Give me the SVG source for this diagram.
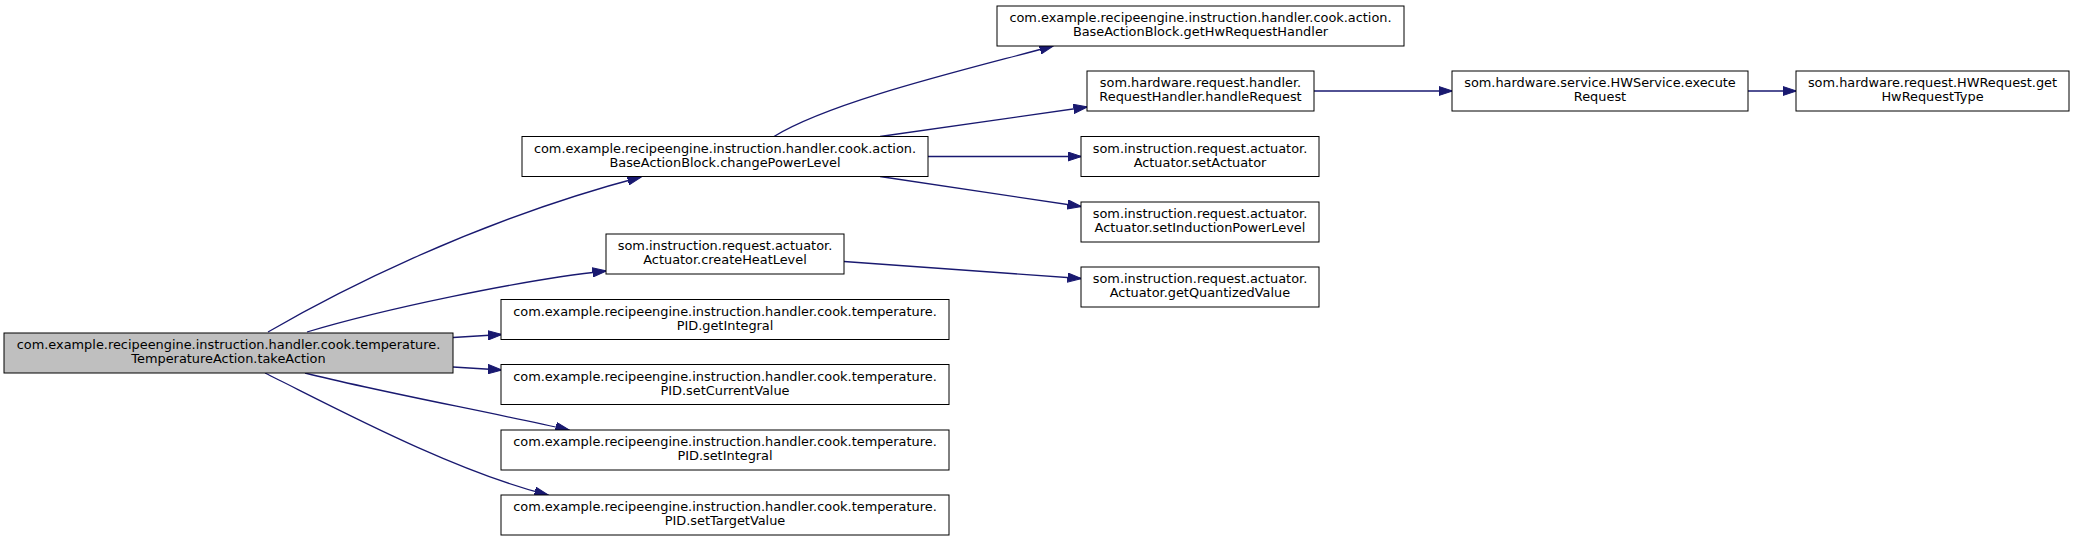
<svg xmlns="http://www.w3.org/2000/svg" width="2075" height="541" viewBox="0 0 2075 541">
<style>
.n rect{fill:#ffffff;stroke:#000000;stroke-width:1}
#root rect{fill:#bfbfbf}
.n text{font-family:"DejaVu Sans","Liberation Sans",sans-serif;font-size:12.9px;fill:#000000;text-anchor:middle}
.e path{fill:none;stroke:#191970;stroke-width:1.3;marker-end:url(#arr)}
</style>
<defs>
<marker id="arr" markerUnits="userSpaceOnUse" markerWidth="14" markerHeight="10" viewBox="0 0 14 10" refX="13.5" refY="5" orient="auto">
<path d="M0,0.4 L14,5 L0,9.6 z" fill="#191970" stroke="#191970" stroke-width="1"/>
</marker>
</defs>
<rect x="0" y="0" width="2075" height="541" fill="#ffffff"/>
<g id="edges" class="e">
<path d="M268,332 C330,296 470,222 641,177"/>
<path d="M307,332 C380,310 520,280 606,271"/>
<path d="M453,337.5 L501.5,334.5"/>
<path d="M453,367 L501.5,370"/>
<path d="M305,373 C380,392 480,410 569,430"/>
<path d="M265,373 C330,405 450,470 548,495"/>
<path d="M774,136.5 C834,100 973,68 1053,46"/>
<path d="M880,136.5 L1087,107"/>
<path d="M928,156.5 L1081,156.5"/>
<path d="M880,176.5 L1081,206.5"/>
<path d="M844,261.5 L1081,278.5"/>
<path d="M1314,91 L1452,91"/>
<path d="M1748,91 L1796,91"/>
</g>
<g id="root" class="n">
<rect x="4" y="333" width="449" height="40"/>
<text x="228.5" y="349.3">com.example.recipeengine.instruction.handler.cook.temperature.</text>
<text x="228.5" y="363">TemperatureAction.takeAction</text>
</g>
<g id="changePowerLevel" class="n">
<rect x="522" y="136.5" width="406" height="40"/>
<text x="725" y="152.8">com.example.recipeengine.instruction.handler.cook.action.</text>
<text x="725" y="166.5">BaseActionBlock.changePowerLevel</text>
</g>
<g id="createHeatLevel" class="n">
<rect x="606" y="234" width="238" height="40"/>
<text x="725" y="250.3">som.instruction.request.actuator.</text>
<text x="725" y="264">Actuator.createHeatLevel</text>
</g>
<g id="getIntegral" class="n">
<rect x="501" y="299.5" width="448" height="40"/>
<text x="725" y="315.8">com.example.recipeengine.instruction.handler.cook.temperature.</text>
<text x="725" y="329.5">PID.getIntegral</text>
</g>
<g id="setCurrentValue" class="n">
<rect x="501" y="364.5" width="448" height="40"/>
<text x="725" y="380.8">com.example.recipeengine.instruction.handler.cook.temperature.</text>
<text x="725" y="394.5">PID.setCurrentValue</text>
</g>
<g id="setIntegral" class="n">
<rect x="501" y="430" width="448" height="40"/>
<text x="725" y="446.3">com.example.recipeengine.instruction.handler.cook.temperature.</text>
<text x="725" y="460">PID.setIntegral</text>
</g>
<g id="setTargetValue" class="n">
<rect x="501" y="495" width="448" height="40"/>
<text x="725" y="511.3">com.example.recipeengine.instruction.handler.cook.temperature.</text>
<text x="725" y="525">PID.setTargetValue</text>
</g>
<g id="getHwRequestHandler" class="n">
<rect x="997" y="6" width="407" height="40"/>
<text x="1200.5" y="22.3">com.example.recipeengine.instruction.handler.cook.action.</text>
<text x="1200.5" y="36">BaseActionBlock.getHwRequestHandler</text>
</g>
<g id="handleRequest" class="n">
<rect x="1087" y="71" width="227" height="40"/>
<text x="1200.5" y="87.3">som.hardware.request.handler.</text>
<text x="1200.5" y="101">RequestHandler.handleRequest</text>
</g>
<g id="setActuator" class="n">
<rect x="1081" y="136.5" width="238" height="40"/>
<text x="1200" y="152.8">som.instruction.request.actuator.</text>
<text x="1200" y="166.5">Actuator.setActuator</text>
</g>
<g id="setInductionPowerLevel" class="n">
<rect x="1081" y="202" width="238" height="40"/>
<text x="1200" y="218.3">som.instruction.request.actuator.</text>
<text x="1200" y="232">Actuator.setInductionPowerLevel</text>
</g>
<g id="getQuantizedValue" class="n">
<rect x="1081" y="267" width="238" height="40"/>
<text x="1200" y="283.3">som.instruction.request.actuator.</text>
<text x="1200" y="297">Actuator.getQuantizedValue</text>
</g>
<g id="executeRequest" class="n">
<rect x="1452" y="71" width="296" height="40"/>
<text x="1600" y="87.3">som.hardware.service.HWService.execute</text>
<text x="1600" y="101">Request</text>
</g>
<g id="getHwRequestType" class="n">
<rect x="1796" y="71" width="273" height="40"/>
<text x="1932.5" y="87.3">som.hardware.request.HWRequest.get</text>
<text x="1932.5" y="101">HwRequestType</text>
</g>
</svg>
